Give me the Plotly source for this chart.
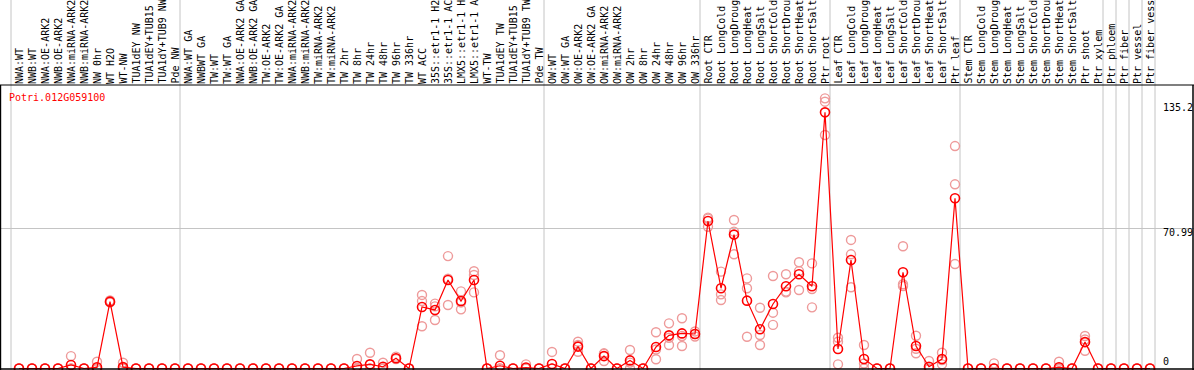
import plotly.graph_objects as go

labels = [
    "NWA:WT", "NWB:WT", "NWA:OE-ARK2", "NWB:OE-ARK2", "NWA:miRNA-ARK2", "NWB:miRNA-ARK2",
    "NW 0hr", "WT H2O", "WT-NW", "TUA1dEY NW", "TUA1dEY+TUB15 NW", "TUA1dY+TUB9 NW", "Pde NW",
    "NWA:WT GA", "NWBWT GA", "TW:WT", "TW:WT GA", "NWA:OE-ARK2 GA", "NWB:OE-ARK2 GA",
    "TW:OE-ARK2", "TW:OE-ARK2 GA", "NWA:miRNA-ARK2", "NWB:miRNA-ARK2", "TW:miRNA-ARK2",
    "TW:miRNA-ARK2", "TW 2hr", "TW 8hr", "TW 24hr", "TW 48hr", "TW 96hr", "TW 336hr",
    "WT ACC", "35S::etr1-1 H2O", "35S::etr1-1 ACC", "LMX5::etr1-1 H2O", "LMX5::etr1-1 ACC",
    "WT-TW", "TUA1dEY TW", "TUA1dEY+TUB15 TW", "TUA1dY+TUB9 TW", "Pde TW",
    "OW:WT", "OW:WT GA", "OW:OE-ARK2", "OW:OE-ARK2 GA", "OW:miRNA-ARK2", "OW:miRNA-ARK2",
    "OW 2hr", "OW 8hr", "OW 24hr", "OW 48hr", "OW 96hr", "OW 336hr",
    "Root CTR", "Root LongCold", "Root LongDrought", "Root LongHeat", "Root LongSalt",
    "Root ShortCold", "Root ShortDrought", "Root ShortHeat", "Root ShortSalt", "Ptr root",
    "Leaf CTR", "Leaf LongCold", "Leaf LongDrought", "Leaf LongHeat", "Leaf LongSalt",
    "Leaf ShortCold", "Leaf ShortDrought", "Leaf ShortHeat", "Leaf ShortSalt", "Ptr leaf",
    "Stem CTR", "Stem LongCold", "Stem LongDrought", "Stem LongHeat", "Stem LongSalt",
    "Stem ShortCold", "Stem ShortDrought", "Stem ShortHeat", "Stem ShortSalt", "Ptr shoot",
    "Ptr xylem", "Ptr phloem", "Ptr fiber", "Ptr vessel", "Ptr fiber vessel",
]

mean_values = [
    0, 0, 0, 0, 1.8, 0, 0.6, 33.9, 0.7, 0, 0, 0, 0,
    0, 0, 0, 0, 0, 0, 0, 0, 0, 0, 0, 0, 0, 1.3, 2.1, 0.9, 5.2, 0,
    31.2, 29.7, 44.9, 34.2, 44.9, 0, 1.4, 0, 0.5, 0,
    2.3, 0, 11.1, 0, 6.3, 0, 4.1, 0, 10.9, 16.8, 17.8, 17.5,
    74.8, 40.7, 67.9, 34.4, 19.9, 32.7, 41.7, 47.8, 41.7, 129.9,
    9.9, 55.0, 4.8, 0, 0, 48.8, 11.4, 0.9, 4.8, 86.3,
    0, 0, 0, 0, 0, 0, 0, 0.6, 0, 13.4,
    0, 0, 0, 0, 0,
]

rep_a = [
    0, 0, 0, 0, 6.3, 0, 3.4, 34.5, 2.9, 0, 0, 0, 0,
    0, 0, 0, 0, 0, 0, 0, 0, 0, 0, 0, 0, 0, 4.8, 8.0, 2.9, 6.0, 0,
    37.3, 32.9, 57.0, 39.1, 49.3, 0, 6.7, 0, 2.1, 0,
    8.4, 0, 13.6, 0, 7.7, 0, 9.4, 0, 18.4, 22.9, 25.5, 18.8,
    76.5, 49.1, 75.3, 45.7, 30.8, 46.9, 47.8, 53.9, 53.3, 137.0,
    15.6, 65.2, 11.9, 0, 0, 62.0, 16.6, 3.8, 8.0, 112.8,
    0, 0, 2.6, 0, 0, 0, 0, 3.4, 0, 16.5,
    0, 0, 0, 0, 0,
]

rep_b = [
    0, 0, 0, 0, 0, 0, 0, 33.5, 0, 0, 0, 0, 0,
    0, 0, 0, 0, 0, 0, 0, 0, 0, 0, 0, 0, 0, 0, 0, 0, 5.0, 0,
    34.2, 24.6, 32.2, 30.0, 47.4, 0, 0, 0, 0, 0,
    0, 0, 11.9, 0, 3.8, 0, 0, 0, 4.7, 11.9, 11.4, 16.2,
    71.9, 37.6, 69.4, 40.7, 11.9, 28.3, 38.6, 49.4, 40.3, 135.3,
    2.1, 57.9, 0, 0, 0, 42.7, 7.7, 0, 2.1, 93.4,
    0, 0, 0, 0, 0, 0, 0, 0, 0, 9.0,
    0, 0, 0, 0, 0,
]

rep_c = [
    0, 0, 0, 0, 0, 0, 0, 33.7, 0, 0, 0, 0, 0,
    0, 0, 0, 0, 0, 0, 0, 0, 0, 0, 0, 0, 0, 0, 0, 0, 4.8, 0,
    21.4, 31.5, 45.5, 33.5, 38.6, 0, 0, 0, 0, 0,
    0, 0, 8.5, 0, 7.4, 0, 3.0, 0, 9.6, 15.6, 16.5, 17.5,
    76.0, 34.7, 57.9, 16.1, 17.0, 22.1, 39.0, 39.8, 31.0, 118.4,
    13.6, 41.2, 2.5, 0, 0, 41.8, 10.0, 0, 4.3, 53.0,
    0, 0, 0, 0, 0, 0, 0, 0, 0, 14.7,
    0, 0, 0, 0, 0,
]

group_ends = [-1, 12, 40, 52, 62, 72, 83, 84, 85, 86, 87]
y_tick_values = [135.2, 70.99, 0]
y_tick_labels = ["135.2", "70.99", "0"]
gene_id = "Potri.012G059100"

W, H = 1194, 370
PX = 13.0          # pixels per category
X0 = 19.0          # pixel of first category
TOP = 85.0         # pixel of top of data area
ZERO = 368.5       # pixel of value 0
PXU = 1.972        # pixels per unit

xs = list(range(len(labels)))
x_range = [-X0 / PX, (W - X0) / PX]
y_dom_top = (H - TOP) / H
y_range = [-(H - ZERO) / PXU, (ZERO - TOP) / PXU]

MONO = "DejaVu Sans Mono"
pink = "#EE9A9A"
red = "#FF0000"

fig = go.Figure()
for rep in (rep_a, rep_b, rep_c):
    fig.add_trace(go.Scatter(
        x=xs, y=rep, mode="markers",
        marker=dict(symbol="circle-open", size=9, color=pink, line=dict(width=1.4, color=pink)),
        showlegend=False, hoverinfo="skip", cliponaxis=False,
    ))
fig.add_trace(go.Scatter(
    x=xs, y=mean_values, mode="lines+markers",
    line=dict(color=red, width=1.2),
    marker=dict(symbol="circle-open", size=9, color=red, line=dict(width=1.6, color=red)),
    showlegend=False, cliponaxis=False,
))

shapes = []
for g in group_ends:
    xv = g + 5.0 / PX
    shapes.append(dict(type="line", xref="x", yref="paper", x0=xv, x1=xv, y0=0, y1=1,
                       line=dict(color="#C4C4C4", width=1), layer="below"))
shapes.append(dict(type="line", xref="paper", yref="y", x0=0, x1=1, y0=y_tick_values[1], y1=y_tick_values[1],
                   line=dict(color="#C4C4C4", width=1), layer="below"))
# frame lines
shapes.append(dict(type="line", xref="paper", yref="paper", x0=0, x1=1, y0=y_dom_top, y1=y_dom_top,
                   line=dict(color="black", width=1.2)))
shapes.append(dict(type="line", xref="paper", yref="paper", x0=0.6 / W, x1=0.6 / W, y0=0, y1=y_dom_top,
                   line=dict(color="black", width=1.2)))
shapes.append(dict(type="line", xref="paper", yref="paper", x0=(W - 1.0) / W, x1=(W - 1.0) / W, y0=0, y1=y_dom_top,
                   line=dict(color="black", width=1.5)))
shapes.append(dict(type="line", xref="paper", yref="paper", x0=0, x1=1, y0=1.0 / H, y1=1.0 / H,
                   line=dict(color="black", width=1.5)))

annotations = []
for i, lab in enumerate(labels):
    annotations.append(dict(
        x=i, xref="x", y=(H - 84.0) / H, yref="paper", text=lab, textangle=-90,
        showarrow=False, xanchor="center", yanchor="bottom",
        font=dict(family=MONO, size=10, color="black"), borderpad=0, borderwidth=0,
    ))
annotations.append(dict(
    x=9.0 / W, xref="paper", y=(H - 97.0) / H, yref="paper", text=gene_id, showarrow=False,
    xanchor="left", yanchor="middle", font=dict(family=MONO, size=10, color=red),
    borderpad=0, borderwidth=0,
))
label_px = [107.0, 232.0, 361.5]
for lab, py in zip(y_tick_labels, label_px):
    annotations.append(dict(
        x=1163.0 / W, xref="paper", y=(H - py) / H, yref="paper", text=lab, showarrow=False,
        xanchor="left", yanchor="middle", font=dict(family=MONO, size=10, color="black"),
        borderpad=0, borderwidth=0,
    ))

fig.update_layout(
    width=W, height=H, autosize=False,
    margin=dict(l=0, r=0, t=0, b=0, pad=0),
    paper_bgcolor="white", plot_bgcolor="white",
    xaxis=dict(range=x_range, domain=[0, 1], showgrid=False, zeroline=False,
               showticklabels=False, ticks="", fixedrange=True),
    yaxis=dict(range=y_range, domain=[0, y_dom_top], showgrid=False, zeroline=False,
               showticklabels=False, ticks="", fixedrange=True),
    shapes=shapes, annotations=annotations, showlegend=False,
)

fig.write_html(
    "out.html",
    config={"displayModeBar": False},
    post_script="document.body.style.margin='0';document.body.style.padding='0';"
                "document.body.style.overflow='hidden';",
)
